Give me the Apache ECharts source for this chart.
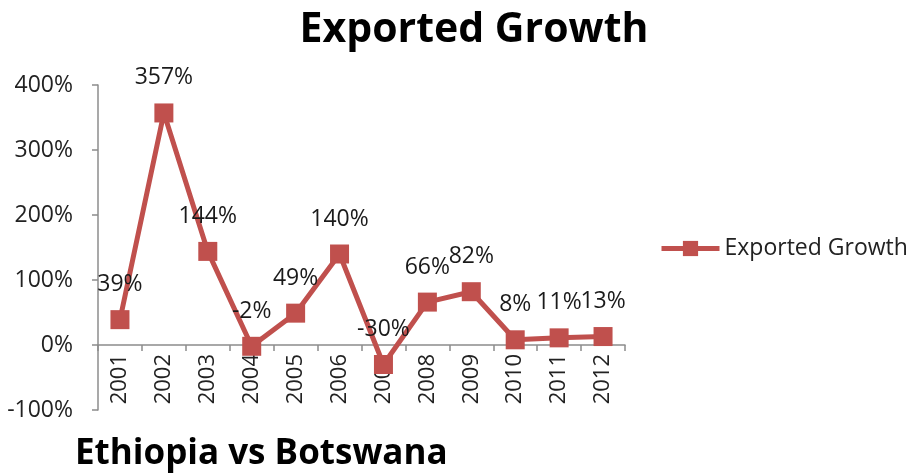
<!DOCTYPE html>
<html>
<head>
<meta charset="utf-8">
<title>Exported Growth</title>
<script src="https://cdn.jsdelivr.net/npm/echarts@6/dist/echarts.min.js"></script>
<style>
  html, body { margin: 0; padding: 0; background: #ffffff; }
  #chart { width: 910px; height: 475px; }
</style>
</head>
<body>
<div id="chart"></div>
<script>
// Years on the category axis
var years = ['2001', '2002', '2003', '2004', '2005', '2006', '2007', '2008', '2009', '2010', '2011', '2012'];
// Year-on-year export growth, in percent
var exportedGrowth = [39, 357, 144, -2, 49, 140, -30, 66, 82, 8, 11, 13];
// Value axis range and step, in percent
var yMin = -100;
var yMax = 400;
var yStep = 100;

var FONT = '"Open Sans", "Noto Sans", sans-serif';
var RED = '#c0504d';

// Plot box in pixels
var GRID_TOP = 85;
var GRID_BOTTOM = 65;
var GRID_H = 475 - GRID_TOP - GRID_BOTTOM;
// Lift the category axis (line, ticks and labels) up to the zero line
var zeroOffset = -GRID_H * (0 - yMin) / (yMax - yMin);

var chart = echarts.init(document.getElementById('chart'), null, { renderer: 'canvas' });

chart.setOption({
  animation: false,
  backgroundColor: '#ffffff',
  textStyle: { fontFamily: FONT },
  title: [
    {
      text: 'Exported Growth',
      left: 469,
      top: 5,
      textAlign: 'center',
      textStyle: { fontFamily: FONT, fontSize: 41, fontWeight: 'bold', color: '#000000' }
    },
    {
      text: 'Ethiopia vs Botswana',
      left: 70,
      top: 432,
      textStyle: { fontFamily: FONT, fontSize: 35, fontWeight: 'bold', color: '#000000' }
    }
  ],
  legend: {
    left: 654,
    top: 232,
    itemWidth: 58,
    itemHeight: 19,
    itemGap: 0,
    lineStyle: { width: 5 },
    textStyle: { fontFamily: FONT, fontSize: 23, color: '#222222' },
    data: ['Exported Growth']
  },
  grid: { left: 98, right: 285, top: GRID_TOP, bottom: GRID_BOTTOM, containLabel: false },
  xAxis: {
    type: 'category',
    data: years,
    boundaryGap: true,
    position: 'bottom',
    offset: zeroOffset,
    axisLine: { onZero: false, lineStyle: { color: '#8c8c8c', width: 1.5 } },
    axisTick: { show: true, alignWithLabel: false, length: 6, inside: false, lineStyle: { color: '#8c8c8c', width: 1.5 } },
    axisLabel: { rotate: 90, margin: 9, fontFamily: FONT, fontSize: 22, color: '#222222', interval: 0 },
    splitLine: { show: false }
  },
  yAxis: {
    type: 'value',
    min: yMin,
    max: yMax,
    interval: yStep,
    axisLine: { show: true, lineStyle: { color: '#8c8c8c', width: 1.5 } },
    axisTick: { show: true, length: 6, lineStyle: { color: '#8c8c8c', width: 1.5 } },
    axisLabel: { margin: 25, fontFamily: FONT, fontSize: 23, color: '#222222', formatter: '{value}%' },
    splitLine: { show: false }
  },
  series: [
    {
      name: 'Exported Growth',
      type: 'line',
      data: exportedGrowth,
      symbol: 'rect',
      symbolSize: 19,
      showAllSymbol: true,
      z: 5,
      lineStyle: { color: RED, width: 5 },
      itemStyle: { color: RED },
      label: {
        show: true,
        position: 'top',
        distance: 14,
        fontFamily: FONT,
        fontSize: 23,
        color: '#1a1a1a',
        formatter: '{c}%'
      }
    }
  ]
});
</script>
</body>
</html>
